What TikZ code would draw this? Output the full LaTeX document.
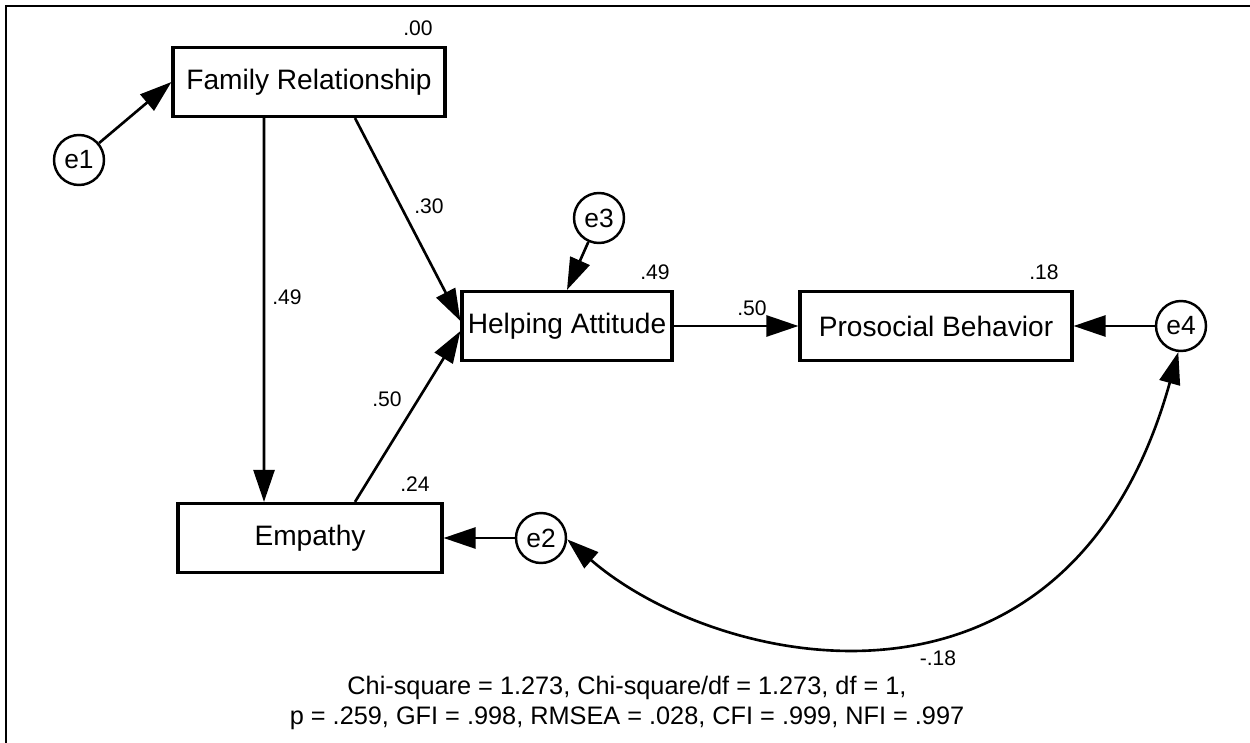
\documentclass[tikz,border=0pt]{standalone}
\usepackage{fontspec}
\setmainfont{Liberation Sans}
\usetikzlibrary{arrows.meta, positioning}

\begin{document}
\begin{tikzpicture}[x=0.02cm, y=-0.02cm,
    >={Triangle[length=0.64cm, width=0.42cm]},
    var/.style={draw, line width=1.8pt, minimum height=1.38cm, inner sep=0pt, font=\fontsize{16}{19}\selectfont},
    err/.style={draw, circle, line width=1.4pt, minimum size=1cm, inner sep=0pt, font=\fontsize{15}{18}\selectfont},
    reg/.style={->, line width=1.5pt},
    coef/.style={inner sep=0pt, font=\fontsize{12}{14}\selectfont}]
    \useasboundingbox (0,0) rectangle (1250,743);
    \draw[line width=1.4pt] (6,743) -- (6,6) -- (1250,6);

    \node[var, minimum width=5.44cm] (fam) at (309,82) {Family Relationship};
    \node[var, minimum width=5.28cm] (emp) at (310,538) {Empathy};
    \node[var, minimum width=4.2cm] (help) at (567,326) {Helping Attitude};
    \node[var, minimum width=5.44cm] (pro) at (936,326) {Prosocial Behavior};

    \node[err] (e1) at (79,160) {e1};
    \node[err] (e2) at (541,538) {e2};
    \node[err] (e3) at (599,218) {e3};
    \node[err] (e4) at (1181,326) {e4};

    \node[coef] (r2fam) at (418,28) {.00};
    \node[coef] (r2emp) at (415,484) {.24};
    \node[coef] (r2help) at (655,272) {.49};
    \node[coef] (r2pro) at (1044,272) {.18};
    \node[coef] (b49) at (287,297) {.49};
    \node[coef] (b30) at (429,206) {.30};
    \node[coef] (b50a) at (387,399) {.50};
    \node[coef] (b50b) at (752,308) {.50};
    \node[coef] (cov) at (938,658) {-.18};

    \draw[reg] (e1) -- (fam.west);
    \draw[reg] ([xshift=-0.9cm]fam.south) -- ([xshift=-0.92cm]emp.north);
    \draw[reg] ([xshift=0.92cm]fam.south) -- ([yshift=0.1cm]help.west);
    \draw[reg] ([xshift=0.9cm]emp.north) -- ([yshift=-0.1cm]help.west);
    \draw[reg] (e3) -- (help.north);
    \draw[reg] (help) -- (pro);
    \draw[reg] (e4) -- (pro);
    \draw[reg] (e2) -- (emp);
    \draw[reg, <->] (e2.-3) .. controls +(150,130) and +(-110,395) .. (e4.-96);

    \node[align=center, font=\fontsize{14.4}{17}\selectfont] (fit) at (627,703)
        {Chi-square = 1.273, Chi-square/df = 1.273, df = 1,\\
         p = .259, GFI = .998, RMSEA = .028, CFI = .999, NFI = .997};
\end{tikzpicture}
\end{document}
